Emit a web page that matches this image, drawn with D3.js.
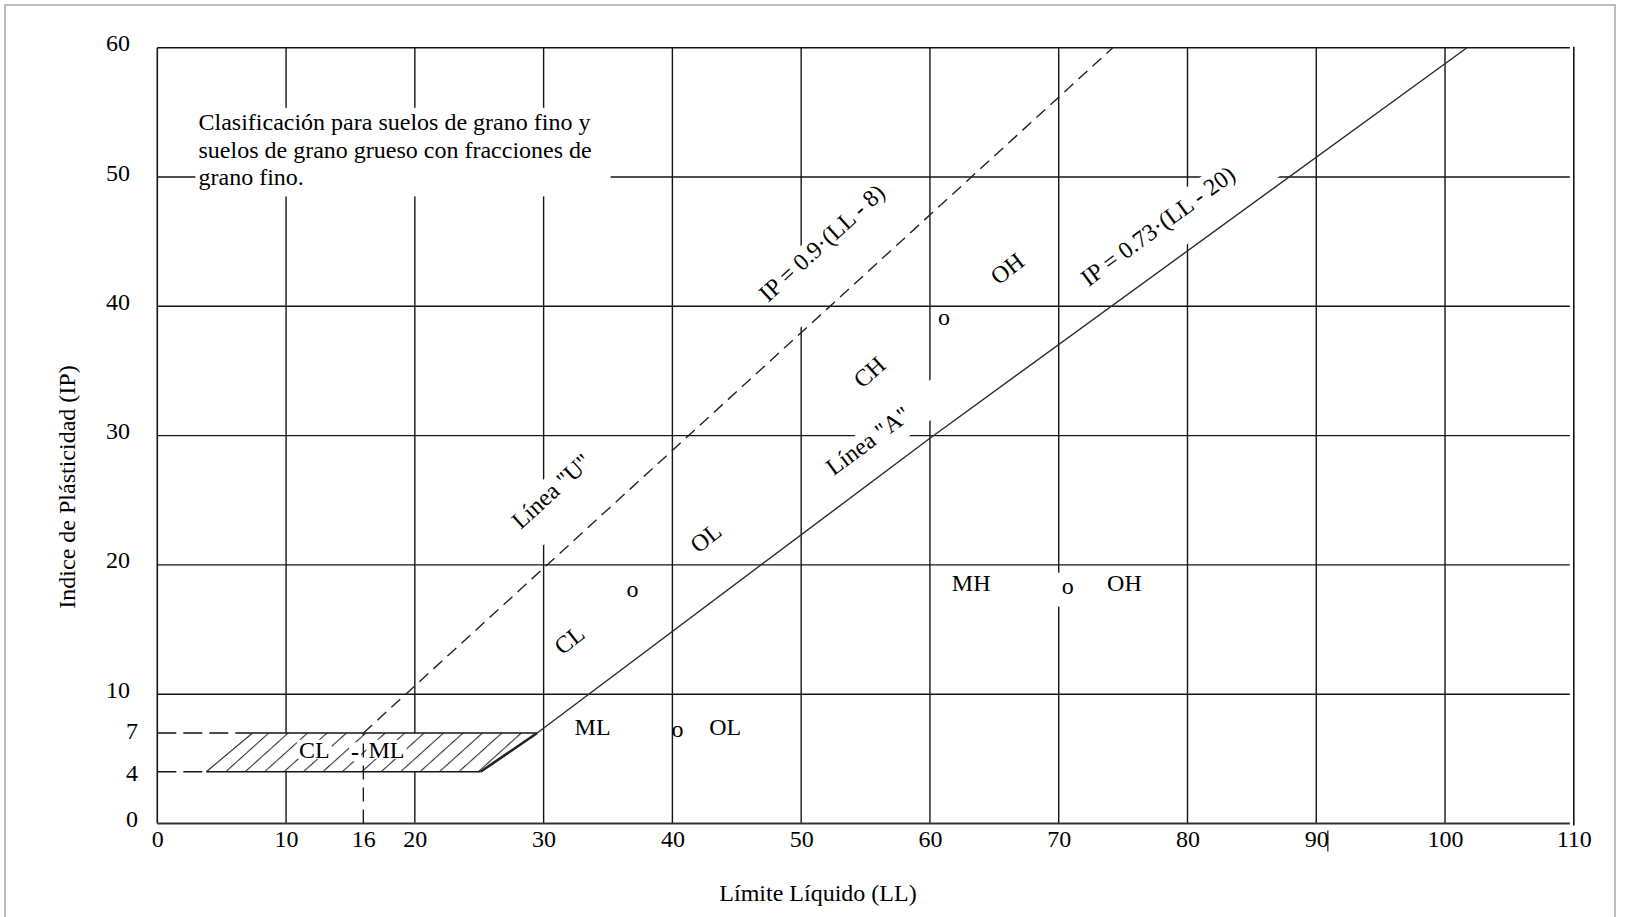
<!DOCTYPE html>
<html><head><meta charset="utf-8">
<script src="https://cdn.jsdelivr.net/npm/d3@7"></script>
<style>
html,body{margin:0;padding:0;background:#fff;}
svg{display:block;}
</style></head><body>
<svg id="chart" width="1626" height="917"></svg>
<script>
// ---------------- data ----------------
const xTickValues = [0, 10, 16, 20, 30, 40, 50, 60, 70, 80, 90, 100, 110];
const yTickValues = [0, 4, 7, 10, 20, 30, 40, 50, 60];
const xGridValues = [10, 20, 30, 40, 50, 60, 70, 80, 90, 100];
const yGridUnder = [10, 20, 30, 50, 60];   // drawn beneath the label boxes
const yGridOver = [40];                    // drawn above the label boxes
const lineU = [[16, 7], [74.2, 60]];               // Línea "U"
const lineA = [[29.5, 7], [60, 29.8], [101.7, 60]]; // Línea "A"
const hatchZone = [[3.8, 4], [7.4, 7], [29.5, 7], [25.1, 4]];
const zoneTop = [[7.4, 7], [29.5, 7]];
const zoneBottom = [[3.8, 4], [25.1, 4]];
const zoneRight = [[25.1, 4], [29.5, 7]];
const zoneLeft = [[3.8, 4], [7.4, 7]];
const dashedIP7 = [[0, 7], [7.4, 7]];
const dashedIP4 = [[0, 4], [3.8, 4]];
const dashedLL16 = [[16, 0], [16, 7]];
const noteLines = ["Clasificación para suelos de grano fino y",
                   "suelos de grano grueso con fracciones de",
                   "grano fino."];
const noteAnchor = [3.2, 53.6];            // LL, IP of the first baseline
const noteBox = [[2.95, 55.35], [35.2, 48.5]];
const lineLabels = [
  {text: "IP = 0.9·(LL - 8)",   ll: 51.6, ip: 44.9, line: "U"},
  {text: "Línea \"U\"",          ll: 30.6, ip: 25.7, line: "U"},
  {text: "Línea \"A\"",          ll: 55.2, ip: 29.6, line: "A"},
  {text: "IP = 0.73·(LL - 20)", ll: 77.7, ip: 46.2, line: "A"}
];
const regionLabels = [
  {text: "CL", ll: 32.0, ip: 14.2, rot: -38},
  {text: "OL", ll: 42.6, ip: 22.1, rot: -38},
  {text: "CH", ll: 55.3, ip: 34.9, rot: -42},
  {text: "OH", ll: 66.0, ip: 42.9, rot: -38},
  {text: "o",  ll: 36.9, ip: 18.1, rot: 0},
  {text: "o",  ll: 61.1, ip: 39.2, rot: 0},
  {text: "MH", ll: 63.2, ip: 18.6, rot: 0},
  {text: "o",  ll: 70.7, ip: 18.4, rot: 0, mask: "o"},
  {text: "OH", ll: 75.1, ip: 18.6, rot: 0},
  {text: "ML", ll: 33.8, ip: 7.5, rot: 0},
  {text: "o",  ll: 40.4, ip: 7.3, rot: 0},
  {text: "OL", ll: 44.1, ip: 7.5, rot: 0},
  {text: "CL", ll: 12.2, ip: 5.7, rot: 0, mask: "z"},
  {text: "-",  ll: 15.35, ip: 5.5, rot: 0, mask: "z", bold: true},
  {text: "ML", ll: 17.8, ip: 5.7, rot: 0, mask: "z"}
];

// ---------------- styles ----------------
const FONT = "'Liberation Serif','Times New Roman',Times,serif";
const FS = 24;
const INK = "#151515";
// white boxes behind line labels: [vTop, vBottom, extraLeft, extraRight] in the label's rotated frame
const lineLabelBox = [[-12, 48, 3, 3], [-14, 34.5, 3, 10], [-12, 20.6, 4, 38], [-14.2, 32, 4, 40]];
const regionMaskPad = {o: [0, 7, 8, 7], z: [-3, 2, -4, 2]}; // top,right,bottom,left

// ---------------- scales ----------------
const svg = d3.select("#chart");
const x = d3.scaleLinear().domain([0, 110]).range([157.3, 1573.8]);
const y = d3.scaleLinear().domain([0, 60]).range([823.5, 47.7]);
const line = d3.line().x(d => x(d[0])).y(d => y(d[1]));

// outer frame
svg.append("rect").attr("x", 5).attr("y", 5).attr("width", 1610).attr("height", 940)
  .attr("fill", "#fff").attr("stroke", "#a8a8a8").attr("stroke-width", 1.5);

const gGrid = svg.append("g");
const gMask = svg.append("g");
const gOver = svg.append("g");
const gZone = svg.append("g");
const gLines = svg.append("g");
const gText = svg.append("g").attr("font-family", FONT).attr("font-size", FS).attr("fill", "#000");

// grid
gGrid.selectAll("line.v").data(xGridValues).join("line").attr("class", "v")
  .attr("x1", d => x(d)).attr("x2", d => x(d)).attr("y1", y(60)).attr("y2", y(0))
  .attr("stroke", INK).attr("stroke-width", 1.4);
gGrid.selectAll("line.h").data(yGridUnder).join("line").attr("class", "h")
  .attr("x1", x(0)).attr("x2", x(110) - 4).attr("y1", d => y(d)).attr("y2", d => y(d))
  .attr("stroke", INK).attr("stroke-width", 1.4);
gOver.selectAll("line.h").data(yGridOver).join("line").attr("class", "h")
  .attr("x1", x(0)).attr("x2", x(110) - 4).attr("y1", d => y(d)).attr("y2", d => y(d))
  .attr("stroke", INK).attr("stroke-width", 1.4);
// frame of the plot
gOver.append("line").attr("x1", x(0)).attr("x2", x(0)).attr("y1", y(60)).attr("y2", y(0))
  .attr("stroke", INK).attr("stroke-width", 1.6);
gOver.append("line").attr("x1", x(0)).attr("x2", x(110) - 4).attr("y1", y(0)).attr("y2", y(0))
  .attr("stroke", "#333").attr("stroke-width", 1.8);
gOver.append("line").attr("x1", x(110)).attr("x2", x(110)).attr("y1", y(60) - 1).attr("y2", y(0) + 2)
  .attr("stroke", INK).attr("stroke-width", 1.6);
// stray mark next to the "90" label
gOver.append("line").attr("x1", x(90.9)).attr("x2", x(90.9)).attr("y1", y(0) + 7).attr("y2", y(0) + 28)
  .attr("stroke", INK).attr("stroke-width", 1.2);

// note box
gMask.append("rect").attr("x", x(noteBox[0][0])).attr("y", y(noteBox[0][1]))
  .attr("width", x(noteBox[1][0]) - x(noteBox[0][0])).attr("height", y(noteBox[1][1]) - y(noteBox[0][1]))
  .attr("fill", "#fff");
gText.append("g").selectAll("text").data(noteLines).join("text")
  .attr("x", x(noteAnchor[0])).attr("y", (d, i) => y(noteAnchor[1]) + i * 27.2)
  .text(d => d);

// hatched zone
const defs = svg.append("defs");
const hatchAngle = 48, hatchStep = 13;
const ca = Math.cos(hatchAngle * Math.PI / 180), sa = Math.sin(hatchAngle * Math.PI / 180);
const phase = ((x(zoneLeft[0][0]) * ca + y(zoneLeft[0][1]) * sa) % hatchStep + hatchStep) % hatchStep;
const pat = defs.append("pattern").attr("id", "hatch").attr("patternUnits", "userSpaceOnUse")
  .attr("width", hatchStep).attr("height", hatchStep).attr("patternTransform", `rotate(${hatchAngle})`);
pat.append("line").attr("x1", phase).attr("x2", phase).attr("y1", -1).attr("y2", hatchStep + 1)
  .attr("stroke", "#333").attr("stroke-width", 1.1);
gZone.append("path").attr("d", line(hatchZone) + "Z").attr("fill", "#fff");
gZone.append("path").attr("d", line(hatchZone) + "Z").attr("fill", "url(#hatch)");
gZone.append("path").attr("d", line(zoneTop)).attr("stroke", INK).attr("stroke-width", 1.4).attr("fill", "none");
gZone.append("path").attr("d", line(zoneBottom)).attr("stroke", INK).attr("stroke-width", 1.4).attr("fill", "none");
gZone.append("path").attr("d", line(zoneLeft)).attr("stroke", "#333").attr("stroke-width", 1.1).attr("fill", "none");
gZone.append("path").attr("d", line(zoneRight)).attr("stroke", "#222").attr("stroke-width", 2.6).attr("fill", "none");
gZone.append("path").attr("d", line(dashedIP7)).attr("stroke", INK).attr("stroke-width", 1.4)
  .attr("stroke-dasharray", "19,7").attr("fill", "none");
gZone.append("path").attr("d", line(dashedIP4)).attr("stroke", INK).attr("stroke-width", 1.4)
  .attr("stroke-dasharray", "19,7").attr("fill", "none");

// classification lines
gLines.append("path").attr("d", line(lineU)).attr("stroke", "#222").attr("stroke-width", 1.4)
  .attr("stroke-dasharray", "12,7").attr("fill", "none");
gLines.append("path").attr("d", line(lineA)).attr("stroke", "#2a2a2a").attr("stroke-width", 1.4)
  .attr("fill", "none");

function lineAngle(pts) {
  const a = pts[0], b = pts[pts.length - 1];
  return Math.atan2(y(b[1]) - y(a[1]), x(b[0]) - x(a[0])) * 180 / Math.PI;
}
const angles = {U: lineAngle(lineU), A: lineAngle(lineA)};

// line labels with white boxes
lineLabels.forEach((d, i) => {
  const tr = `translate(${x(d.ll)},${y(d.ip)}) rotate(${angles[d.line]})`;
  const t = gText.append("text").attr("transform", tr)
    .attr("text-anchor", "middle").attr("dominant-baseline", "central").text(d.text);
  const w = t.node().getComputedTextLength();
  const b = lineLabelBox[i];
  gMask.append("rect").attr("transform", tr)
    .attr("x", -w / 2 - b[2]).attr("y", b[0]).attr("width", w + b[2] + b[3]).attr("height", b[1] - b[0])
    .attr("fill", "#fff");
});

// region labels
regionLabels.forEach(d => {
  const tr = `translate(${x(d.ll)},${y(d.ip)}) rotate(${d.rot})`;
  const t = gText.append("text").attr("transform", tr)
    .attr("text-anchor", "middle").attr("dominant-baseline", "central")
    .attr("font-weight", d.bold ? "bold" : null).text(d.text);
  if (d.mask) {
    const bb = t.node().getBBox();
    const p = regionMaskPad[d.mask];
    const target = d.mask === "z" ? gZone : gMask;  // zone masks sit above the hatch
    target.append("rect").attr("transform", tr)
      .attr("x", bb.x - p[3]).attr("y", bb.y - p[0])
      .attr("width", bb.width + p[1] + p[3]).attr("height", bb.height + p[0] + p[2])
      .attr("fill", "#fff");
  }
});
// dashed LL=16 line above the zone masks
gZone.append("path").attr("d", line(dashedLL16)).attr("stroke", INK).attr("stroke-width", 1.3)
  .attr("stroke-dasharray", "14,8").attr("fill", "none");

// axes (tick labels only)
const gx = svg.append("g").attr("transform", `translate(0,${y(0)})`)
  .call(d3.axisBottom(x).tickValues(xTickValues).tickSize(0).tickFormat(d3.format("d")));
gx.select(".domain").remove();
gx.attr("font-family", FONT).attr("font-size", FS);
gx.selectAll("text").attr("y", 15).attr("dy", null).attr("dominant-baseline", "central").attr("fill", "#000");

const yShift = d => d === 7 ? -2 : (d === 4 ? 1 : -5);
const gy = svg.append("g")
  .call(d3.axisLeft(y).tickValues(yTickValues).tickSize(0).tickFormat(d3.format("d")));
gy.select(".domain").remove();
gy.attr("font-family", FONT).attr("font-size", FS);
gy.selectAll("text").attr("x", d => d < 10 ? 138 : 130).attr("y", d => yShift(d)).attr("dy", null)
  .attr("dominant-baseline", "central").attr("fill", "#000");

// axis titles
gText.append("text").attr("x", 818).attr("y", 893).attr("text-anchor", "middle")
  .attr("dominant-baseline", "central").text("Límite Líquido (LL)");
gText.append("text").attr("transform", "translate(67,487) rotate(-90)").attr("text-anchor", "middle")
  .attr("dominant-baseline", "central").text("Indice de Plásticidad (IP)");
</script>
</body></html>
